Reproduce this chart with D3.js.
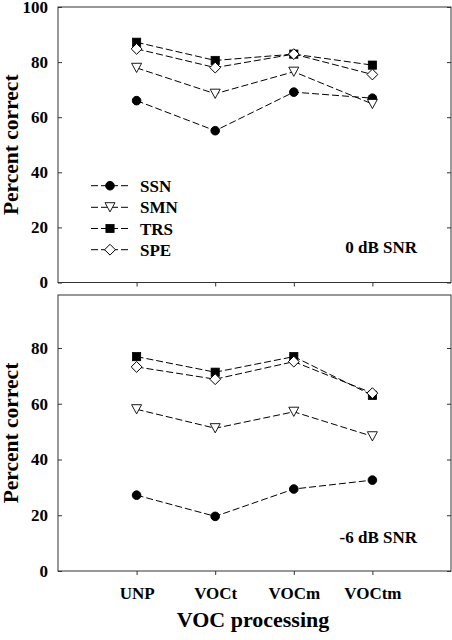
<!DOCTYPE html>
<html>
<head>
<meta charset="utf-8">
<script src="https://cdn.jsdelivr.net/npm/d3@7"></script>
<style>
  html, body { margin: 0; padding: 0; background: #fff; }
  svg { display: block; }
  text { font-family: "Liberation Serif", "Times New Roman", serif; font-weight: bold; fill: #000; }
</style>
</head>
<body>
<svg id="chart" width="452" height="640"></svg>
<script>
// ---- data ----
const categories = ["UNP", "VOCt", "VOCm", "VOCtm"];
const seriesNames = ["SSN", "SMN", "TRS", "SPE"];
const yTicksTop = [0, 20, 40, 60, 80, 100];
const yTicksBottom = [0, 20, 40, 60, 80];
const panelLabels = ["0 dB SNR", "-6 dB SNR"];

// 0 dB SNR
const ssn0 = [66.0, 55.1, 69.1, 66.9];
const smn0 = [77.9, 68.5, 76.5, 64.8];
const trs0 = [87.2, 80.6, 82.9, 78.9];
const spe0 = [84.8, 78.0, 82.9, 75.5];
// -6 dB SNR
const ssn6 = [27.2, 19.6, 29.4, 32.6];
const smn6 = [58.0, 51.2, 57.1, 48.3];
const trs6 = [76.9, 71.3, 76.9, 63.0];
const spe6 = [73.2, 68.8, 75.1, 63.8];

const panels = [
  { series: [ssn0, smn0, trs0, spe0], label: panelLabels[0], ticks: yTicksTop, domain: [0, 100], range: [282.5, 7], legend: true },
  { series: [ssn6, smn6, trs6, spe6], label: panelLabels[1], ticks: yTicksBottom, domain: [0, 99], range: [571, 295], legend: false }
];

const FONT = "'Liberation Serif', 'Times New Roman', serif";
const svg = d3.select("#chart");
const left = 58, right = 451;
const x = d3.scaleLinear().domain([0, categories.length + 1]).range([left, right]);

const markerStyles = [
  { type: "circle", fill: "#000" },
  { type: "triDown", fill: "#fff" },
  { type: "square", fill: "#000" },
  { type: "diamond", fill: "#fff" }
];

function drawMarker(g, style, cx, cy) {
  if (style.type === "circle") {
    g.append("circle").attr("cx", cx).attr("cy", cy).attr("r", 4.3)
      .attr("fill", style.fill).attr("stroke", "#000").attr("stroke-width", 1);
  } else if (style.type === "square") {
    const s = 8.2;
    g.append("rect").attr("x", cx - s / 2).attr("y", cy - s / 2).attr("width", s).attr("height", s)
      .attr("fill", style.fill).attr("stroke", "#000").attr("stroke-width", 0.8);
  } else if (style.type === "diamond") {
    const r = 5.4;
    g.append("path").attr("d", `M${cx},${cy - r}L${cx + r},${cy}L${cx},${cy + r}L${cx - r},${cy}Z`)
      .attr("fill", style.fill).attr("stroke", "#000").attr("stroke-width", 1);
  } else if (style.type === "triDown") {
    const w = 5, h = 4.6;
    g.append("path").attr("d", `M${cx - w},${cy - h}L${cx + w},${cy - h}L${cx},${cy + h}Z`)
      .attr("fill", style.fill).attr("stroke", "#000").attr("stroke-width", 0.9);
  }
}

panels.forEach((p) => {
  const y = d3.scaleLinear().domain(p.domain).range(p.range);
  const g = svg.append("g");
  const top = p.range[1], bottom = p.range[0];

  // frame
  g.append("rect").attr("x", left).attr("y", top).attr("width", right - left).attr("height", bottom - top)
    .attr("fill", "none").attr("stroke", "#333").attr("stroke-width", 1);

  // left axis: inward ticks, labels outside
  const yAxisL = d3.axisLeft(y).tickValues(p.ticks).tickSizeInner(-4).tickSizeOuter(0).tickPadding(10);
  const gl = g.append("g").attr("transform", `translate(${left},0)`).call(yAxisL);
  gl.select(".domain").remove();
  gl.selectAll("line").attr("stroke", "#333");
  gl.selectAll("text").style("font-size", "17px").style("font-family", FONT).style("font-weight", "bold").attr("fill", "#000");

  // right axis: inward ticks, no labels
  const yAxisR = d3.axisRight(y).tickValues(p.ticks).tickSizeInner(-4).tickSizeOuter(0).tickFormat("");
  const gr = g.append("g").attr("transform", `translate(${right},0)`).call(yAxisR);
  gr.select(".domain").remove();
  gr.selectAll("line").attr("stroke", "#333");

  // bottom axis: outward ticks
  const xAxis = d3.axisBottom(x).tickValues(categories.map((c, i) => i + 1)).tickSizeInner(4).tickSizeOuter(0)
    .tickFormat(p.legend ? "" : (d) => categories[d - 1]).tickPadding(12);
  const gb = g.append("g").attr("transform", `translate(0,${bottom})`).call(xAxis);
  gb.select(".domain").remove();
  gb.selectAll("line").attr("stroke", "#333");
  gb.selectAll("text").style("font-size", "17px").style("font-family", FONT).style("font-weight", "bold").attr("fill", "#000");

  // series lines
  const line = d3.line().x((d, i) => x(i + 1)).y((d) => y(d));
  p.series.forEach((vals) => {
    g.append("path").datum(vals).attr("d", line).attr("fill", "none")
      .attr("stroke", "#000").attr("stroke-width", 1).attr("stroke-dasharray", "7,3");
  });
  // markers
  p.series.forEach((vals, si) => {
    vals.forEach((v, i) => drawMarker(g, markerStyles[si], x(i + 1), y(v)));
  });

  // panel label
  g.append("text").attr("x", 417).attr("y", p.legend ? 253 : 542.5).attr("text-anchor", "end")
    .style("font-size", "17px").style("font-family", FONT).text(p.label);

  // y title
  g.append("text").attr("transform", `translate(17.5,${(top + bottom) / 2}) rotate(-90)`)
    .attr("text-anchor", "middle").style("font-size", "21.5px").style("font-family", FONT).text("Percent correct");

  // legend
  if (p.legend) {
    const baselines = [191.7, 213.3, 234.5, 255.7];
    seriesNames.forEach((name, si) => {
      const by = baselines[si];
      const my = by - 6;
      g.append("line").attr("x1", 91).attr("x2", 128).attr("y1", my).attr("y2", my)
        .attr("stroke", "#000").attr("stroke-width", 1).attr("stroke-dasharray", "7,3");
      drawMarker(g, markerStyles[si], 110, my);
      g.append("text").attr("x", 140).attr("y", by).style("font-size", "17px").style("font-family", FONT).text(name);
    });
  }
});

// x title
svg.append("text").attr("x", 253).attr("y", 627).attr("text-anchor", "middle")
  .style("font-size", "22px").style("font-family", FONT).text("VOC processing");
</script>
</body>
</html>
